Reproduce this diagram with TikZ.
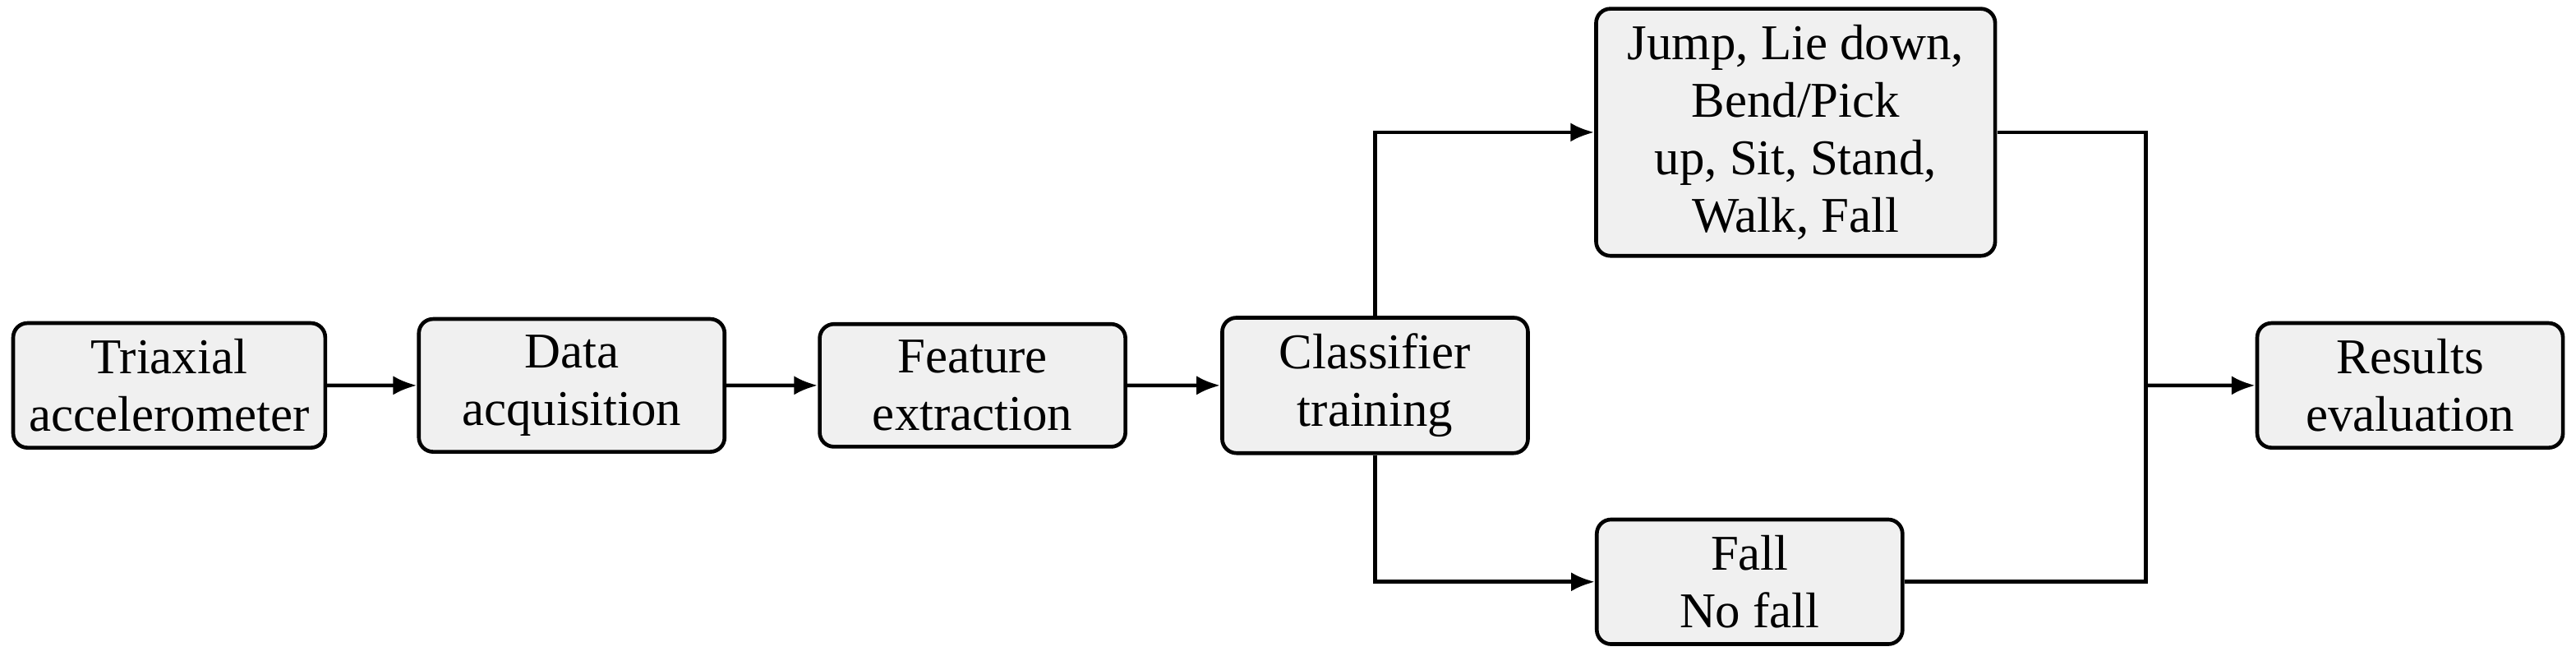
\documentclass[tikz,border=0pt]{standalone}
\usepackage{fontspec}
\setmainfont{Liberation Serif}
\usepackage{tikz}
\usepackage{xcolor}
\usetikzlibrary{arrows.meta}

\begin{document}
\begin{tikzpicture}[x=0.75pt,y=0.75pt,yscale=-0.46,xscale=0.46,
    box/.style={align=center, minimum width=64.2pt, draw, thick, rounded corners=3pt, fill=black!6, font=\fontsize{10.5}{12.1}\selectfont},
    link/.style={thick, -{Latex[length=5pt,width=4pt]}}]

    \useasboundingbox (0,0) rectangle (1568,399);

    \draw (103,234.5)  node [box] (tri)  {Triaxial\\accelerometer};
    \draw (348,234.5)  node [box] (daq)  {Data\\acquisition};
    \draw (592,234.5)  node [box] (feat) {Feature\\extraction};
    \draw (837,234.5)  node [box] (cls)  {Classifier\\training};
    \draw (1093,80.5)  node [box, minimum width=83.8pt] (acts) {Jump, Lie down,\\Bend/Pick\\up, Sit, Stand,\\Walk, Fall};
    \draw (1065,354)   node [box] (fall) {Fall\\No fall};
    \draw (1467,234.5) node [box] (res)  {Results\\evaluation};
    \coordinate (join) at (1306,234.5);
    \draw [link] (tri) -- (daq);
    \draw [link] (daq) -- (feat);
    \draw [link] (feat) -- (cls);
    \draw [link] (cls) |- (acts);
    \draw [link] (cls) |- (fall);
    \draw [thick] (acts) -| (join);
    \draw [thick] (fall) -| (join);
    \draw [link] (join) -- (res);

\end{tikzpicture}
\end{document}
